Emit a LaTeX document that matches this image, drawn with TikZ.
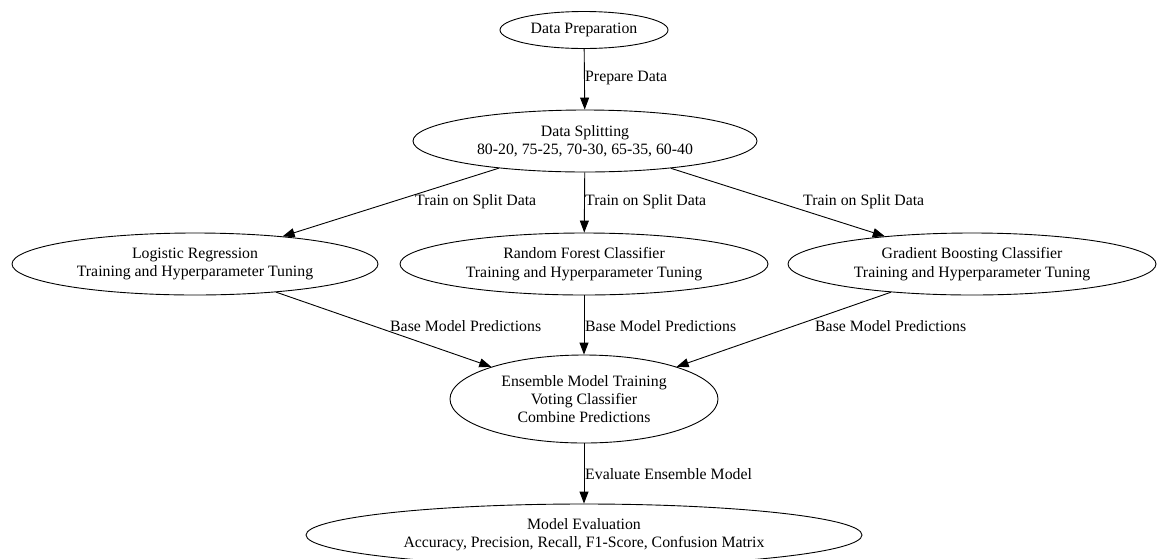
\documentclass[tikz,border=0pt]{standalone}
\usepackage{fontspec}
\setmainfont{Liberation Serif}
\usetikzlibrary{shapes.geometric}
\usetikzlibrary{arrows.meta}
\usetikzlibrary{positioning}

\begin{document}
\begin{tikzpicture}
  [x=1pt,y=-1pt,
  stage/.style={ellipse,draw=black,line width=0.9pt,inner sep=0pt,align=center,font=\fontsize{15.8}{18.3}\selectfont},
  flow/.style={draw=black,line width=0.9pt,-{Triangle[length=12pt,width=9pt]}},
  lbl/.style={anchor=west,inner sep=0pt,font=\fontsize{15.8}{18.3}\selectfont}]
  \useasboundingbox (0,0) rectangle (1157,558);

  \node[stage,minimum width=168pt,minimum height=37pt] (prep) at (584,30) {Data Preparation};
  \node[stage,minimum width=344pt,minimum height=62pt] (split) at (585,141) {Data Splitting\\80-20, 75-25, 70-30, 65-35, 60-40};

  \node[stage,minimum width=366pt,minimum height=62pt] (lr) at (195,264) {Logistic Regression\\Training and Hyperparameter Tuning};
  \node[stage,minimum width=368pt,minimum height=62pt] (rf) at (584,264) {Random Forest Classifier\\Training and Hyperparameter Tuning};
  \node[stage,minimum width=368pt,minimum height=62pt] (gb) at (972,264) {Gradient Boosting Classifier\\Training and Hyperparameter Tuning};

  \node[stage,minimum width=268pt,minimum height=88pt] (ens) at (584,399) {Ensemble Model Training\\Voting Classifier\\Combine Predictions};
  \node[stage,minimum width=556pt,minimum height=62pt] (eval) at (584,535) {Model Evaluation\\Accuracy, Precision, Recall, F1-Score, Confusion Matrix};

  \draw[flow] (prep) -- (split);
  \draw[flow] (split) -- (lr);
  \draw[flow] (split) -- (rf);
  \draw[flow] (split) -- (gb);
  \draw[flow] (lr) -- (ens);
  \draw[flow] (rf) -- (ens);
  \draw[flow] (gb) -- (ens);
  \draw[flow] (ens) -- (eval);

  \node[lbl] (l1) at (585,78) {Prepare Data};
  \node[lbl] (l2) at (415,202) {Train on Split Data};
  \node[lbl] (l3) at (585,202) {Train on Split Data};
  \node[lbl] (l4) at (803,202) {Train on Split Data};
  \node[lbl] (l5) at (390,326) {Base Model Predictions};
  \node[lbl] (l6) at (585,326) {Base Model Predictions};
  \node[lbl] (l7) at (815,326) {Base Model Predictions};
  \node[lbl] (l8) at (585,474) {Evaluate Ensemble Model};
\end{tikzpicture}
\end{document}
